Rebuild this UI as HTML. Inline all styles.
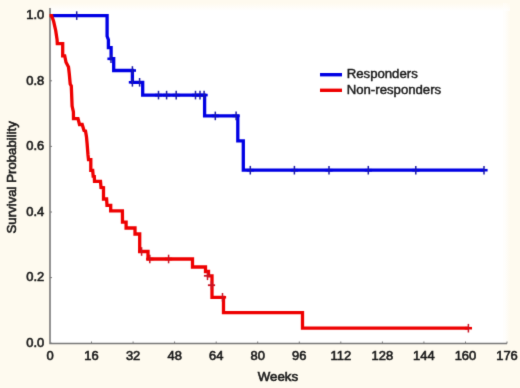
<!DOCTYPE html>
<html><head><meta charset="utf-8"><style>
html,body{margin:0;padding:0;background:#fefaef;}
svg{display:block;}
text{font-family:"Liberation Sans",Arial,sans-serif;font-size:13.0px;fill:#1a1a1a;stroke:#1a1a1a;stroke-width:0.6px;}
</style></head><body>
<svg width="520" height="388" viewBox="0 0 520 388">
<defs>
<filter id="fb" x="0" y="0" width="520" height="388" filterUnits="userSpaceOnUse" color-interpolation-filters="sRGB"><feConvolveMatrix order="3" kernelMatrix="0.0113 0.0838 0.0113 0.0838 0.6193 0.0838 0.0113 0.0838 0.0113" edgeMode="duplicate"/></filter>
<linearGradient id="gt" x1="0" y1="0" x2="0" y2="1"><stop offset="0" stop-color="#fefaef"/><stop offset="1" stop-color="#ffffff"/></linearGradient>
<linearGradient id="gr" x1="0" y1="0" x2="1" y2="0"><stop offset="0" stop-color="#ffffff"/><stop offset="1" stop-color="#fefaef"/></linearGradient>
</defs>
<g filter="url(#fb)">
<rect x="0" y="0" width="520" height="388" fill="#fefaef"/>
<rect x="50" y="11" width="453.5" height="332.5" fill="#ffffff"/>
<rect x="50" y="3" width="453.5" height="8" fill="url(#gt)"/>
<rect x="503.5" y="3" width="6.5" height="340.5" fill="url(#gr)"/>
<rect x="503.5" y="3" width="6.5" height="8" fill="url(#gt)" opacity="0.6"/>
<path d="M50 8V343.5H507" stroke="#787878" stroke-width="1.6" fill="none"/>
<path d="M91.5 343.5V341.5" stroke="#787878" stroke-width="1"/><path d="M133.1 343.5V341.5" stroke="#787878" stroke-width="1"/><path d="M174.6 343.5V341.5" stroke="#787878" stroke-width="1"/><path d="M216.2 343.5V341.5" stroke="#787878" stroke-width="1"/><path d="M257.7 343.5V341.5" stroke="#787878" stroke-width="1"/><path d="M299.3 343.5V341.5" stroke="#787878" stroke-width="1"/><path d="M340.8 343.5V341.5" stroke="#787878" stroke-width="1"/><path d="M382.4 343.5V341.5" stroke="#787878" stroke-width="1"/><path d="M423.9 343.5V341.5" stroke="#787878" stroke-width="1"/><path d="M465.5 343.5V341.5" stroke="#787878" stroke-width="1"/><path d="M507.0 343.5V341.5" stroke="#787878" stroke-width="1"/>
<path d="M50 343.2H52" stroke="#787878" stroke-width="1"/><path d="M50 277.6H52" stroke="#787878" stroke-width="1"/><path d="M50 212.0H52" stroke="#787878" stroke-width="1"/><path d="M50 146.4H52" stroke="#787878" stroke-width="1"/><path d="M50 80.8H52" stroke="#787878" stroke-width="1"/><path d="M50 15.2H52" stroke="#787878" stroke-width="1"/>
<g stroke-linejoin="miter" fill="none">
<polyline points="50.0,15.6 107.1,15.6 107.1,36.3 108.4,39.7 108.4,47.7 111.1,47.7 111.1,58.7 113.7,58.7 113.7,70.5 132.4,70.5 132.4,82.3 142.7,82.3 142.7,95.1 204.6,95.1 204.6,115.9 237.8,115.9 237.8,140.8 243.3,140.8 243.3,170.2 484.0,170.2" stroke="#0000e4" stroke-width="3.3"/>
<polyline points="49.6,15.6 51.6,15.6 53.6,21.3 55.7,30.5 57.1,39.8 57.3,43.7 62.7,43.7 62.7,55.8 64.7,55.8 66.0,62.3 68.5,67.0 69.3,74.0 70.2,84.0 71.3,86.0 72.1,106.0 73.4,112.0 73.5,118.7 78.0,118.7 79.5,124.5 82.2,124.5 84.0,130.5 85.5,131.0 86.5,137.0 87.1,143.5 88.0,155.0 88.5,159.6 90.8,159.6 90.8,170.3 92.7,170.3 93.2,176.3 94.3,176.5 94.5,181.4 100.5,181.4 101.0,187.5 103.5,187.8 103.5,199.0 106.6,199.0 107.0,205.3 110.7,205.3 110.7,210.8 122.4,210.8 122.5,222.1 126.1,222.1 126.1,228.0 135.0,228.0 135.0,234.0 139.7,234.0 139.7,251.5 148.0,251.5 148.0,259.0 192.5,259.0 192.5,267.0 205.5,267.0 205.5,271.5 208.5,271.5 208.5,275.8 212.0,275.8 212.0,297.3 223.5,297.3 223.5,312.7 302.5,312.7 302.5,328.2 468.4,328.2" stroke="#ee0000" stroke-width="3.3"/>
</g>
<path d="M73.1 15.6H80.3" stroke="#0000e4" stroke-width="2.6" fill="none"/>
<path d="M76.7 11.3V19.9" stroke="#1a1aa8" stroke-width="1.5" fill="none"/>
<path d="M107.4 58.8H114.6" stroke="#0000e4" stroke-width="2.6" fill="none"/>
<path d="M111.0 54.5V63.1" stroke="#1a1aa8" stroke-width="1.5" fill="none"/>
<path d="M128.8 70.5H136.0" stroke="#0000e4" stroke-width="2.6" fill="none"/>
<path d="M132.4 66.2V74.8" stroke="#1a1aa8" stroke-width="1.5" fill="none"/>
<path d="M128.8 82.3H136.0" stroke="#0000e4" stroke-width="2.6" fill="none"/>
<path d="M132.4 78.0V86.6" stroke="#1a1aa8" stroke-width="1.5" fill="none"/>
<path d="M136.0 82.3H143.2" stroke="#0000e4" stroke-width="2.6" fill="none"/>
<path d="M139.6 78.0V86.6" stroke="#1a1aa8" stroke-width="1.5" fill="none"/>
<path d="M154.9 95.1H162.1" stroke="#0000e4" stroke-width="2.6" fill="none"/>
<path d="M158.5 90.8V99.4" stroke="#1a1aa8" stroke-width="1.5" fill="none"/>
<path d="M163.0 95.1H170.2" stroke="#0000e4" stroke-width="2.6" fill="none"/>
<path d="M166.6 90.8V99.4" stroke="#1a1aa8" stroke-width="1.5" fill="none"/>
<path d="M172.6 95.1H179.8" stroke="#0000e4" stroke-width="2.6" fill="none"/>
<path d="M176.2 90.8V99.4" stroke="#1a1aa8" stroke-width="1.5" fill="none"/>
<path d="M191.9 95.1H199.1" stroke="#0000e4" stroke-width="2.6" fill="none"/>
<path d="M195.5 90.8V99.4" stroke="#1a1aa8" stroke-width="1.5" fill="none"/>
<path d="M196.4 95.1H203.6" stroke="#0000e4" stroke-width="2.6" fill="none"/>
<path d="M200.0 90.8V99.4" stroke="#1a1aa8" stroke-width="1.5" fill="none"/>
<path d="M200.5 95.1H207.7" stroke="#0000e4" stroke-width="2.6" fill="none"/>
<path d="M204.1 90.8V99.4" stroke="#1a1aa8" stroke-width="1.5" fill="none"/>
<path d="M211.7 115.9H218.9" stroke="#0000e4" stroke-width="2.6" fill="none"/>
<path d="M215.3 111.6V120.2" stroke="#1a1aa8" stroke-width="1.5" fill="none"/>
<path d="M232.5 115.9H239.7" stroke="#0000e4" stroke-width="2.6" fill="none"/>
<path d="M236.1 111.6V120.2" stroke="#1a1aa8" stroke-width="1.5" fill="none"/>
<path d="M246.7 170.2H253.9" stroke="#0000e4" stroke-width="2.6" fill="none"/>
<path d="M250.3 165.9V174.5" stroke="#1a1aa8" stroke-width="1.5" fill="none"/>
<path d="M290.8 170.2H298.0" stroke="#0000e4" stroke-width="2.6" fill="none"/>
<path d="M294.4 165.9V174.5" stroke="#1a1aa8" stroke-width="1.5" fill="none"/>
<path d="M325.4 170.2H332.6" stroke="#0000e4" stroke-width="2.6" fill="none"/>
<path d="M329.0 165.9V174.5" stroke="#1a1aa8" stroke-width="1.5" fill="none"/>
<path d="M364.7 170.2H371.9" stroke="#0000e4" stroke-width="2.6" fill="none"/>
<path d="M368.3 165.9V174.5" stroke="#1a1aa8" stroke-width="1.5" fill="none"/>
<path d="M412.2 170.2H419.4" stroke="#0000e4" stroke-width="2.6" fill="none"/>
<path d="M415.8 165.9V174.5" stroke="#1a1aa8" stroke-width="1.5" fill="none"/>
<path d="M480.4 170.2H487.6" stroke="#0000e4" stroke-width="2.6" fill="none"/>
<path d="M484.0 165.9V174.5" stroke="#1a1aa8" stroke-width="1.5" fill="none"/>
<path d="M138.0 251.5H145.2" stroke="#ee0000" stroke-width="2.6" fill="none"/>
<path d="M141.6 247.2V255.8" stroke="#c81424" stroke-width="1.5" fill="none"/>
<path d="M146.2 259.0H153.4" stroke="#ee0000" stroke-width="2.6" fill="none"/>
<path d="M149.8 254.7V263.3" stroke="#c81424" stroke-width="1.5" fill="none"/>
<path d="M165.0 259.0H172.2" stroke="#ee0000" stroke-width="2.6" fill="none"/>
<path d="M168.6 254.7V263.3" stroke="#c81424" stroke-width="1.5" fill="none"/>
<path d="M203.9 275.8H211.1" stroke="#c81424" stroke-width="1.8" fill="none"/>
<path d="M207.5 271.5V280.1" stroke="#c81424" stroke-width="1.5" fill="none"/>
<path d="M207.9 285.2H215.1" stroke="#c81424" stroke-width="1.8" fill="none"/>
<path d="M211.5 280.9V289.5" stroke="#c81424" stroke-width="1.5" fill="none"/>
<path d="M218.9 297.3H226.1" stroke="#ee0000" stroke-width="2.6" fill="none"/>
<path d="M222.5 293.0V301.6" stroke="#c81424" stroke-width="1.5" fill="none"/>
<path d="M464.8 328.2H472.0" stroke="#ee0000" stroke-width="2.6" fill="none"/>
<path d="M468.4 323.9V332.5" stroke="#c81424" stroke-width="1.5" fill="none"/>
<path d="M320 74.7H342" stroke="#0000e4" stroke-width="3.4"/>
<path d="M320 90.3H342" stroke="#ee0000" stroke-width="3.4"/>
<text transform="translate(346.70,78.40) scale(1.015,1)" text-anchor="start" style="font-size:13.0px;stroke-width:0.45px">Responders</text>
<text transform="translate(346.70,94.00) scale(1.015,1)" text-anchor="start" style="font-size:13.0px;stroke-width:0.45px">Non-responders</text>
<text transform="translate(44.20,347.00) scale(1.02,1)" text-anchor="end" style="font-size:12.7px">0.0</text><text transform="translate(44.20,281.40) scale(1.02,1)" text-anchor="end" style="font-size:12.7px">0.2</text><text transform="translate(44.20,215.80) scale(1.02,1)" text-anchor="end" style="font-size:12.7px">0.4</text><text transform="translate(44.20,150.20) scale(1.02,1)" text-anchor="end" style="font-size:12.7px">0.6</text><text transform="translate(44.20,84.60) scale(1.02,1)" text-anchor="end" style="font-size:12.7px">0.8</text><text transform="translate(44.20,19.00) scale(1.02,1)" text-anchor="end" style="font-size:12.7px">1.0</text>
<text transform="translate(50.00,359.50) scale(1.02,1)" text-anchor="middle" style="font-size:12.7px">0</text><text transform="translate(91.55,359.50) scale(1.02,1)" text-anchor="middle" style="font-size:12.7px">16</text><text transform="translate(133.09,359.50) scale(1.02,1)" text-anchor="middle" style="font-size:12.7px">32</text><text transform="translate(174.64,359.50) scale(1.02,1)" text-anchor="middle" style="font-size:12.7px">48</text><text transform="translate(216.18,359.50) scale(1.02,1)" text-anchor="middle" style="font-size:12.7px">64</text><text transform="translate(257.73,359.50) scale(1.02,1)" text-anchor="middle" style="font-size:12.7px">80</text><text transform="translate(299.27,359.50) scale(1.02,1)" text-anchor="middle" style="font-size:12.7px">96</text><text transform="translate(340.82,359.50) scale(1.02,1)" text-anchor="middle" style="font-size:12.7px">112</text><text transform="translate(382.36,359.50) scale(1.02,1)" text-anchor="middle" style="font-size:12.7px">128</text><text transform="translate(423.91,359.50) scale(1.02,1)" text-anchor="middle" style="font-size:12.7px">144</text><text transform="translate(465.45,359.50) scale(1.02,1)" text-anchor="middle" style="font-size:12.7px">160</text><text transform="translate(507.00,359.50) scale(1.02,1)" text-anchor="middle" style="font-size:12.7px">176</text>
<text transform="translate(277.90,381.20) scale(1.02,1)" text-anchor="middle">Weeks</text>
<text transform="translate(16.00,177.30) rotate(-90) scale(0.995,1)" text-anchor="middle" style="font-size:13.3px">Survival Probability</text>
</g>
</svg>
</body></html>
